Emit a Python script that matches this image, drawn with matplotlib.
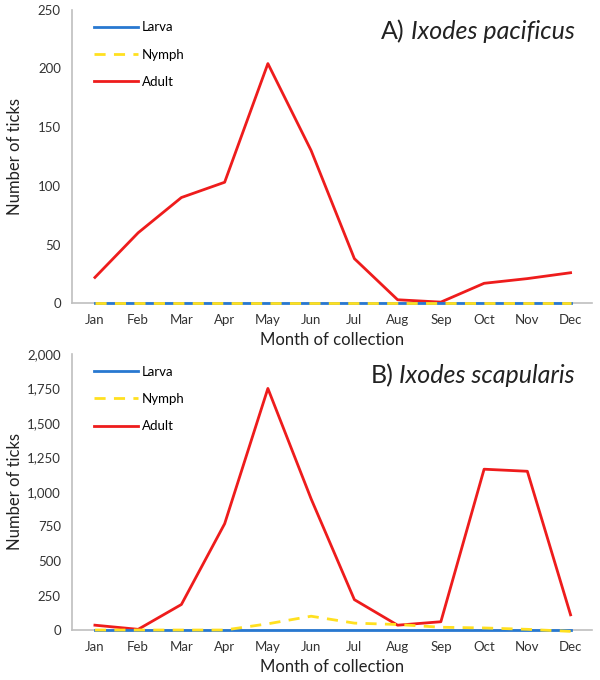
import matplotlib.pyplot as plt
from matplotlib.ticker import FuncFormatter

months = ['Jan', 'Feb', 'Mar', 'Apr', 'May', 'Jun', 'Jul', 'Aug', 'Sep', 'Oct', 'Nov', 'Dec']

# A) Ixodes pacificus
pac_larva = [0, 0, 0, 0, 0, 0, 0, 0, 0, 0, 0, 0]
pac_nymph = [0, 0, 0, 0, 0, 0, 0, 0, 0, 0, 0, 0]
pac_adult = [22, 60, 90, 103, 204, 130, 38, 3, 1, 17, 21, 26]

# B) Ixodes scapularis
sca_larva = [0, 0, 0, 0, 0, 0, 0, 0, 0, 0, 0, 0]
sca_nymph = [0, 0, 0, 0, 45, 100, 50, 40, 20, 15, 5, -10]
sca_adult = [35, 5, 185, 770, 1750, 950, 220, 35, 60, 1165, 1150, 110]

plt.rcParams['font.family'] = ['Lato', 'DejaVu Sans']

fig = plt.figure(figsize=(6, 6.8), dpi=100)
axA = fig.add_axes([0.12, 0.554, 0.867, 0.432])
axB = fig.add_axes([0.12, 0.0735, 0.867, 0.406])

blue = '#2878d0'
yellow = '#ffe020'
red = '#ee1c1c'
grey = '#bfbfbf'


def draw(ax, larva, nymph, adult, ymax, step, title, comma):
    x = range(len(months))
    ax.plot(x, adult, color=red, lw=2, label='Adult', zorder=3, clip_on=False)
    ax.plot(x, larva, color=blue, lw=2, label='Larva', zorder=3, clip_on=False)
    ax.plot(x, nymph, color=yellow, lw=2, ls=(0, (4, 3)), label='Nymph', zorder=3.5, clip_on=False)
    ax.set_xlim(-0.53, 11.5)
    ax.set_ylim(0, ymax)
    ax.set_yticks(range(0, ymax + 1, step))
    if comma:
        ax.yaxis.set_major_formatter(FuncFormatter(lambda v, p: f'{int(v):,}'))
    ax.set_xticks(list(x))
    ax.set_xticklabels(months)
    ax.tick_params(length=0, labelsize=9.5, colors='#333333', pad=8)
    for s in ['top', 'right']:
        ax.spines[s].set_visible(False)
    for s in ['left', 'bottom']:
        ax.spines[s].set_color(grey)
        ax.spines[s].set_linewidth(1.2)
    ax.set_ylabel('Number of ticks', fontsize=12, color='#222222')
    ax.yaxis.set_label_coords(-0.095, 0.5)
    ax.set_xlabel('Month of collection', fontsize=12, color='#222222', labelpad=4)
    sp, name = title.split(' ', 1)
    t = ax.text(0.967, 0.965, name, transform=ax.transAxes, ha='right', va='top',
                fontsize=18, style='italic', color='#222222')
    fig.canvas.draw()
    bb = t.get_window_extent().transformed(ax.transAxes.inverted())
    ax.text(bb.x0 - 0.012, 0.965, sp, transform=ax.transAxes, ha='right', va='top',
            fontsize=18, color='#222222')
    h, l = ax.get_legend_handles_labels()
    order = [1, 2, 0]
    ax.legend([h[i] for i in order], [l[i] for i in order], loc='upper left',
              frameon=False, fontsize=9.5, handlelength=3.3, labelspacing=1.15,
              handletextpad=0.3, bbox_to_anchor=(0.02, 1.0))


draw(axA, pac_larva, pac_nymph, pac_adult, 250, 50, 'A) Ixodes pacificus', False)
draw(axB, sca_larva, sca_nymph, sca_adult, 2000, 250, 'B) Ixodes scapularis', True)

fig.savefig('out.png', dpi=100)
